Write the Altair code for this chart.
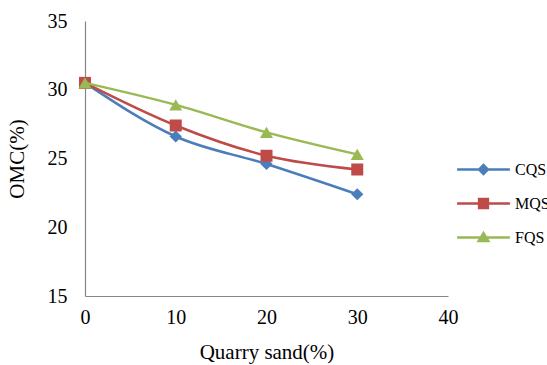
import altair as alt
import pandas as pd

# ---- data ----
x_vals = [0, 10, 20, 30]
series_names = ["CQS", "MQS", "FQS"]
cqs = [30.5, 26.6, 24.6, 22.4]
mqs = [30.5, 27.4, 25.2, 24.2]
fqs = [30.5, 28.9, 26.9, 25.3]
x_ticks = [0, 10, 20, 30, 40]
y_ticks = [15, 20, 25, 30, 35]

# ---- styles ----
colors = ["#4a7ebb", "#be4b48", "#98b954"]
plot_shapes = ["diamond", "square", "triangle-up"]
plot_sizes = [150, 144, 169]
legend_paths = [
    "M-3.3,0H3.3M0,-0.55L0.55,0L0,0.55L-0.55,0Z",
    "M-3.3,0H3.3M-0.55,-0.55H0.55V0.55H-0.55Z",
    "M-3.3,0H3.3M0,-0.55L0.6,0.45L-0.6,0.45Z",
]
FONT = "Liberation Serif"

rows = []
for name, vals in zip(series_names, [cqs, mqs, fqs]):
    for xv, yv in zip(x_vals, vals):
        rows.append({"sand": xv, "omc": yv, "series": name})
df = pd.DataFrame(rows)

x_enc = alt.X(
    "sand:Q",
    scale=alt.Scale(domain=[0, 40], nice=False, zero=False),
    axis=alt.Axis(title="Quarry sand(%)", values=x_ticks, labelPadding=11,
                  titlePadding=14, labelFlush=False, labelOverlap=False),
)
y_enc = alt.Y(
    "omc:Q",
    scale=alt.Scale(domain=[15, 35], nice=False, zero=False),
    axis=alt.Axis(title="OMC(%)", values=y_ticks, labelPadding=18, titlePadding=20,
                  labelFlush=False, labelOverlap=False),
)

base = alt.Chart(df)
layers = []
for name, col, shp, sz in zip(series_names, colors, plot_shapes, plot_sizes):
    sub = base.transform_filter(alt.datum.series == name)
    layers.append(
        sub.mark_line(interpolate="monotone", color=col, strokeWidth=2.5).encode(
            x=x_enc, y=y_enc
        )
    )
    layers.append(
        sub.mark_point(shape=shp, filled=True, size=sz, color=col, opacity=1).encode(
            x=x_enc, y=y_enc
        )
    )

leg = alt.Legend(
    title=None,
    orient="none",
    legendX=389,
    legendY=139,
    symbolSize=256,
    symbolStrokeWidth=2.5,
    labelOffset=22,
    rowPadding=15,
    padding=0,
    labelFont=FONT,
    labelFontSize=16,
    labelColor="black",
)
legend_layer = (
    base.transform_filter("false")
    .mark_point(filled=True, opacity=1, size=256)
    .encode(
        x=x_enc,
        y=y_enc,
        fill=alt.Fill("series:N", scale=alt.Scale(domain=series_names, range=colors), legend=leg),
        stroke=alt.Stroke("series:N", scale=alt.Scale(domain=series_names, range=colors), legend=leg),
        shape=alt.Shape("series:N", scale=alt.Scale(domain=series_names, range=legend_paths), legend=leg),
    )
)

chart = (
    alt.layer(*layers, legend_layer)
    .properties(
        width=363,
        height=275,
        autosize="none",
        padding={"left": 85, "top": 21, "right": 99, "bottom": 69},
        background="white",
    )
    .configure_view(stroke=None)
    .configure_axis(
        grid=False,
        ticks=False,
        tickSize=0,
        domainColor="#868686",
        domainWidth=1.2,
        labelFont=FONT,
        labelFontSize=20,
        labelColor="black",
        titleFont=FONT,
        titleFontSize=21,
        titleFontWeight="normal",
        titleColor="black",
    )
)

chart.save("out.html", embed_options={"renderer": "svg", "actions": False})
